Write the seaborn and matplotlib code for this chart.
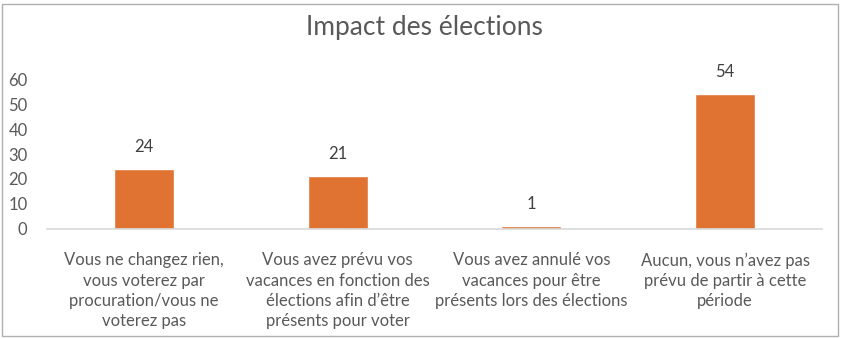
import matplotlib
matplotlib.use("Agg")
import matplotlib.pyplot as plt
import seaborn as sns
import pandas as pd
from matplotlib.patches import Rectangle

categories = [
    "Vous ne changez rien,\nvous voterez par\nprocuration/vous ne\nvoterez pas",
    "Vous avez prévu vos\nvacances en fonction des\nélections afin d\u2019être\nprésents pour voter",
    "Vous avez annulé vos\nvacances pour être\nprésents lors des élections",
    "Aucun, vous n\u2019avez pas\nprévu de partir à cette\npériode",
]
values = [24, 21, 1, 54]
yticks = [0, 10, 20, 30, 40, 50, 60]
title = "Impact des élections"

sns.set_theme(style="white")
plt.rcParams["font.family"] = ["Lato", "DejaVu Sans"]

TXT = "#595959"
BAR = "#E07332"

fig = plt.figure(figsize=(8.44, 3.39), dpi=100)
ax = fig.add_axes([47/844, 1 - 228.7/339, (822-47)/844, (228.7-79.5)/339])

df = pd.DataFrame({"cat": categories, "val": values})
sns.barplot(data=df, x="cat", y="val", color=BAR, width=0.31, ax=ax, saturation=1)

ax.set_ylim(0, 60)
ax.set_xlim(-0.5, len(categories) - 0.5)
ax.set_yticks(yticks)
ax.set_yticklabels([str(t) for t in yticks], fontsize=12, color=TXT)
ax.set_xticks(range(len(categories)))
ax.set_xticklabels(categories, fontsize=12, color=TXT, linespacing=1.33, va="top")
ax.tick_params(axis="x", length=0, pad=17)
ax.tick_params(axis="y", length=0, pad=14)
for lab in ax.get_yticklabels():
    lab.set_horizontalalignment("right")
ax.set_xlabel("")
ax.set_ylabel("")
for s in ["top", "right", "left"]:
    ax.spines[s].set_visible(False)
ax.spines["bottom"].set_color("#D9D9D9")
ax.spines["bottom"].set_linewidth(1.2)
ax.patch.set_alpha(0)

for i, v in enumerate(values):
    ax.annotate(str(v), (i, v), xytext=(0, 22), textcoords="offset pixels",
                ha="center", va="center", fontsize=12, color="#404040")

fig.text(424/844, 1 - 28/339, title, ha="center", va="center", fontsize=19, color=TXT)

fig.patches.append(Rectangle((2/844, 3/339), 836/844, 332/339, transform=fig.transFigure,
                             fill=False, edgecolor="#B0B0B0", linewidth=1))

fig.savefig("out.png", dpi=100)
